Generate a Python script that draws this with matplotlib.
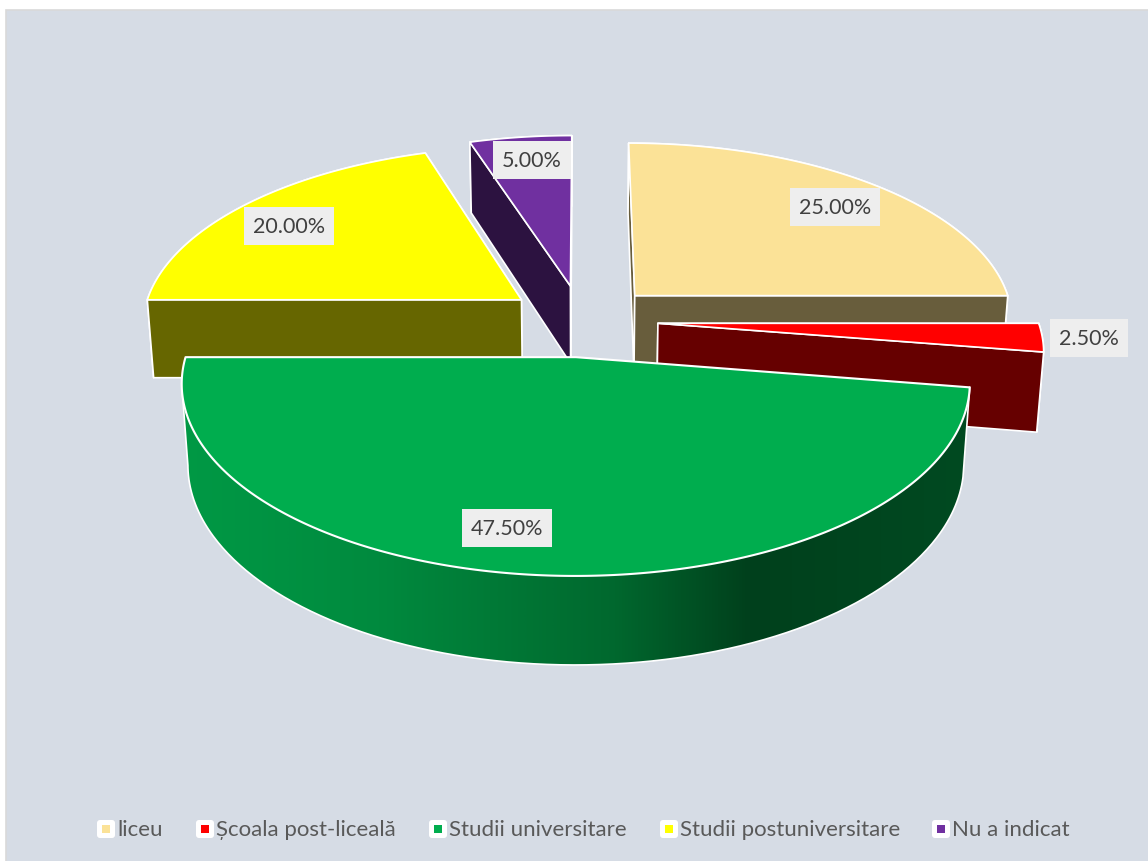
import numpy as np
import matplotlib
matplotlib.use("Agg")
import matplotlib.pyplot as plt
from matplotlib.patches import Polygon, Rectangle, FancyBboxPatch
from matplotlib.colors import LinearSegmentedColormap

# --- data ---
categories = ["liceu", "Școala post-liceală", "Studii universitare",
              "Studii postuniversitare", "Nu a indicat"]
shares = [25.0, 2.5, 47.5, 20.0, 5.0]
labels = ["25.00%", "2.50%", "47.50%", "20.00%", "5.00%"]

# --- style ---
top_colors = ["#FBE297", "#FF0000", "#00AD4E", "#FFFF00", "#7030A0"]
side_colors = ["#685D3C", "#660000", "#006B30", "#666600", "#2C1240"]
green_ramp = LinearSegmentedColormap.from_list(
    "ramp", [(0.0, "#009945"), (0.25, "#008A3E"), (0.55, "#00682E"),
             (0.72, "#00401C"), (1.0, "#004A21")])

W, H = 1148, 862
plt.rcParams["font.family"] = ["Lato", "DejaVu Sans"]
fig = plt.figure(figsize=(W / 100, H / 100), dpi=100, facecolor="white")
ax = fig.add_axes([0, 0, 1, 1])
ax.set_xlim(0, W)
ax.set_ylim(H, 0)
ax.axis("off")

ax.add_patch(Rectangle((5.5, 10.5), W, H, fc="#D6DCE5", ec="#D9D9D9", lw=1.2, zorder=0))

# projection of the pie plane (perspective camera)
X0, Y0, A, B, K, C, M = 582, 321.5, 380, 179, 0.133, 80, 0.015
EXPLODE = 0.2


def project(x, y, z=0.0):
    w = 1 + K * y + M * z
    return X0 + A * x / w, Y0 - B * y / w + C * z / w


def P(xs, ys, zz=0.0):
    return np.column_stack(project(np.asarray(xs), np.asarray(ys), zz))


edges = np.concatenate([[0], np.cumsum(shares)]) / np.sum(shares) * 2 * np.pi
z = 2
WHITE = dict(ec="white", lw=1.2, joinstyle="round")

# back slices first, the front slice last
for i in [0, 3, 4, 1, 2]:
    t0, t1 = edges[i], edges[i + 1]
    mid = (t0 + t1) / 2
    ox, oy = EXPLODE * np.sin(mid), EXPLODE * np.cos(mid)
    ts = np.linspace(t0, t1, 300)
    rx, ry = ox + np.sin(ts), oy + np.cos(ts)
    top_rim, bot_rim = P(rx, ry, 0), P(rx, ry, 1)

    if i == 2:  # gradient wall of the front slice
        i_top, i_bot = int(np.argmin(top_rim[:, 0])), int(np.argmin(bot_rim[:, 0]))
        wall = np.vstack([top_rim[:i_top + 1], bot_rim[:i_bot + 1][::-1]])
        xmin, xmax = wall[:, 0].min(), wall[:, 0].max()
        ymin, ymax = wall[:, 1].min(), wall[:, 1].max()
        grad = np.linspace(0, 1, 512).reshape(1, -1)
        im = ax.imshow(grad, cmap=green_ramp, extent=(xmin, xmax, ymax, ymin), aspect="auto",
                       interpolation="bilinear", zorder=z)
        im.set_clip_path(Polygon(wall, transform=ax.transData))
        ax.set_xlim(0, W)
        ax.set_ylim(H, 0)
        z += 1
        outline = np.vstack([top_rim[:1], bot_rim[:i_bot + 1], top_rim[i_top:i_top + 1]])
        ax.plot(outline[:, 0], outline[:, 1], color="white", lw=1.2, zorder=z)
    else:
        ax.add_patch(Polygon(np.vstack([top_rim, bot_rim[::-1]]), fc=side_colors[i], zorder=z, **WHITE))
        z += 1
        # radial walls, the one facing the viewer drawn last
        order = [t1, t0] if i in (3, 4) else [t0, t1]
        for t in order:
            rimx, rimy = ox + np.sin(t), oy + np.cos(t)
            quad = np.vstack([P([ox], [oy], 0), P([rimx], [rimy], 0), P([rimx], [rimy], 1), P([ox], [oy], 1)])
            ax.add_patch(Polygon(quad, fc=side_colors[i], zorder=z, **WHITE))
            z += 1
    apex = P([ox], [oy], 0)
    ax.add_patch(Polygon(np.vstack([apex, top_rim]), fc=top_colors[i], zorder=z,
                         ec="white", lw=1.5 if i == 2 else 1.2, joinstyle="round"))
    z += 1

# data labels
label_xy = [(835, 208), (1089, 339), (507, 529), (289, 227), (532, 161)]
for s, (lx, ly) in zip(labels, label_xy):
    ax.text(lx, ly, s, ha="center", va="center", fontsize=15.5, color="#404040", zorder=z,
            bbox=dict(boxstyle="square,pad=0.4", fc="#EEEEEE", ec="none"))

# legend
legend_x = [97, 196, 429, 660, 932]
for name, col, lx in zip(categories, top_colors, legend_x):
    ax.add_patch(FancyBboxPatch((lx + 2, 823), 14, 14, boxstyle="round,pad=2,rounding_size=3",
                                fc="white", ec="none", zorder=z))
    ax.add_patch(Rectangle((lx + 5, 826), 8, 8, fc=col, ec="none", zorder=z + 1))
    ax.text(lx + 20, 830, name, ha="left", va="center", fontsize=16, color="#595959", zorder=z)

fig.savefig("out.png", dpi=100, facecolor="white")
